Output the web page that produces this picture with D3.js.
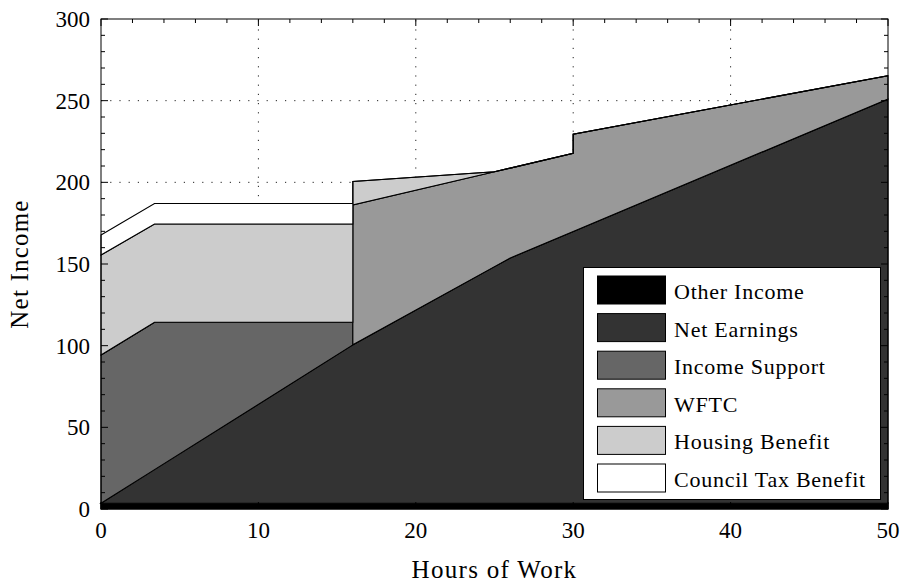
<!DOCTYPE html>
<html><head><meta charset="utf-8">
<script src="https://cdn.jsdelivr.net/npm/d3@7"></script>
<style>body{margin:0;background:#fff}svg{display:block}text{font-family:"Liberation Serif","Times New Roman",serif;fill:#000}</style>
</head><body><svg id="c" width="906" height="584"></svg>
<script>
// Data (hours of work, duplicated x for step changes at 16 and 30 hours)
const hours = [0, 3.4, 16, 16, 25, 26, 30, 30, 50];
const otherIncome = [3.5, 3.5, 3.5, 3.5, 3.5, 3.5, 3.5, 3.5, 3.5];
const netEarnings = [0, 20.6, 97, 97, 144.9, 150.2, 166.4, 166.4, 247.5];
const incomeSupport = [90.8, 90.2, 13.8, 0, 0, 0, 0, 0, 0];
const wftc = [0, 0, 0, 85.7, 58.1, 55, 47.9, 59.5, 14.3];
const housingBenefit = [61.2, 60.2, 60.2, 14.3, 0, 0, 0, 0, 0];
const councilTaxBenefit = [12.2, 12.5, 12.5, 0, 0, 0, 0, 0, 0];
const seriesNames = ["Other Income", "Net Earnings", "Income Support", "WFTC", "Housing Benefit", "Council Tax Benefit"];
const seriesColors = ["#000000", "#333333", "#666666", "#999999", "#cccccc", "#ffffff"];
const xTicks = [0, 10, 20, 30, 40, 50];
const yTicks = [0, 50, 100, 150, 200, 250, 300];

const seriesValues = [otherIncome, netEarnings, incomeSupport, wftc, housingBenefit, councilTaxBenefit];
const rows = hours.map((h, i) => {
  const r = {h};
  seriesNames.forEach((n, k) => r[n] = seriesValues[k][i]);
  return r;
});

const svg = d3.select("#c");
const L = 101, R = 888, T = 19, B = 509;
const x = d3.scaleLinear().domain([0, 50]).range([L, R]);
const y = d3.scaleLinear().domain([0, 300]).range([B, T]);

// grid
const grid = svg.append("g").attr("stroke", "#222").attr("stroke-width", 1).attr("stroke-dasharray", "1.2,8");
xTicks.slice(1, -1).forEach(t => grid.append("line").attr("x1", x(t)).attr("x2", x(t)).attr("y1", B).attr("y2", T));
yTicks.slice(1, -1).forEach(t => grid.append("line").attr("y1", y(t)).attr("y2", y(t)).attr("x1", L).attr("x2", R));

// stacked areas
const stack = d3.stack().keys(seriesNames)(rows);
const area = d3.area().x(d => x(d.data.h)).y0(d => y(d[0])).y1(d => y(d[1]));
svg.append("g").selectAll("path").data(stack).join("path")
  .attr("d", area)
  .attr("fill", (d, i) => seriesColors[i])
  .attr("stroke", "#000").attr("stroke-width", 1.1).attr("stroke-linejoin", "miter");

// axes box
const ax = svg.append("g");
ax.append("rect").attr("x", L).attr("y", T).attr("width", R - L).attr("height", B - T)
  .attr("fill", "none").attr("stroke", "#000").attr("stroke-width", 1);
const xMinor = d3.range(0, 51, 2), yMinor = d3.range(0, 301, 10);
xMinor.forEach(t => {
  const len = xTicks.includes(t) ? 7 : 4;
  ax.append("line").attr("x1", x(t)).attr("x2", x(t)).attr("y1", B).attr("y2", B - len).attr("stroke", "#000");
  ax.append("line").attr("x1", x(t)).attr("x2", x(t)).attr("y1", T).attr("y2", T + len).attr("stroke", "#000");
});
yMinor.forEach(t => {
  const len = yTicks.includes(t) ? 7 : 4;
  ax.append("line").attr("y1", y(t)).attr("y2", y(t)).attr("x1", L).attr("x2", L + len).attr("stroke", "#000");
  ax.append("line").attr("y1", y(t)).attr("y2", y(t)).attr("x1", R).attr("x2", R - len).attr("stroke", "#000");
});

// tick labels
ax.selectAll(".xt").data(xTicks).join("text").attr("class", "xt")
  .attr("x", d => x(d)).attr("y", 538).attr("text-anchor", "middle").attr("font-size", 23).text(d => d);
ax.selectAll(".yt").data(yTicks).join("text").attr("class", "yt")
  .attr("x", 90).attr("y", d => y(d) + 8).attr("text-anchor", "end").attr("font-size", 23).text(d => d);

// axis titles
svg.append("text").attr("x", (L + R) / 2).attr("y", 578).attr("text-anchor", "middle")
  .attr("font-size", 25).attr("letter-spacing", 1.3).text("Hours of Work");
svg.append("text").attr("transform", `translate(28,${(T + B) / 2}) rotate(-90)`).attr("text-anchor", "middle")
  .attr("font-size", 25).attr("letter-spacing", 1.2).text("Net Income");

// legend
const lg = svg.append("g");
lg.append("rect").attr("x", 583.5).attr("y", 267.5).attr("width", 297).attr("height", 232)
  .attr("fill", "#fff").attr("stroke", "#000").attr("stroke-width", 1);
seriesNames.forEach((n, i) => {
  const yy = 276 + i * 37.6;
  lg.append("rect").attr("x", 597.5).attr("y", yy).attr("width", 68).attr("height", 28)
    .attr("fill", seriesColors[i]).attr("stroke", "#000").attr("stroke-width", 1);
  lg.append("text").attr("x", 674).attr("y", yy + 23).attr("font-size", 22).attr("letter-spacing", 0.75).text(n);
});
</script></body></html>
